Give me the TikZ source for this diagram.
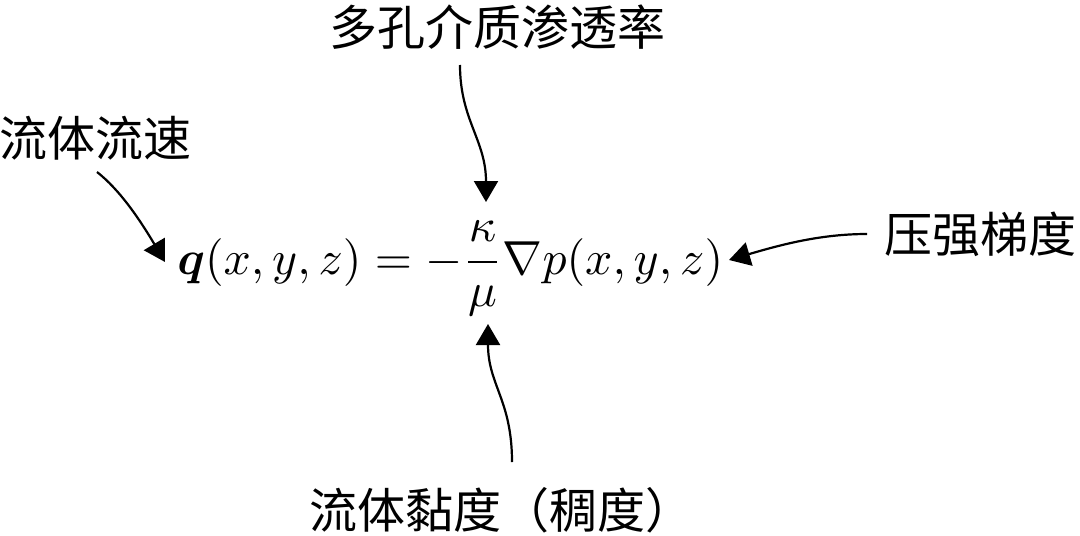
\documentclass[tikz,border=0pt]{standalone}
\usepackage{amsmath}
\usepackage{bm}
\usepackage{fontspec}
\newfontfamily\cjk{Noto Sans CJK SC}
\usetikzlibrary{arrows.meta}
\tikzset{
  lbl/.style={font=\cjk\fontsize{24}{28}\selectfont, inner sep=0pt},
  pointer/.style={line width=1.1pt, -{Triangle[width=12pt,length=10.5pt]}},
}
\begin{document}
\begin{tikzpicture}[x=0.5pt,y=-0.5pt]
\useasboundingbox (0,0) rectangle (1080,535);
% labels
\node[lbl] (perm) at (497,27) {多孔介质渗透率};
\node[lbl] (vel) at (95,138) {流体流速};
\node[lbl] (grad) at (980,234) {压强梯度};
\node[lbl] (visc) at (501,510) {流体黏度（稠度）};
% formula
\node[anchor=base west, inner sep=0pt, font=\fontsize{10}{12}\selectfont] (eq) at (177,274)
  {\scalebox{2.39}{$\bm{q}(x,y,z)=-\dfrac{\kappa}{\mu}\nabla p(x,y,z)$}};
% connector endpoints
\coordinate (permS) at (460,65);
\coordinate (permE) at (486,202);
\coordinate (velS) at (97,172);
\coordinate (velE) at (165,262);
\coordinate (gradS) at (867,234);
\coordinate (gradE) at (729,260);
\coordinate (viscS) at (512,462);
\coordinate (viscE) at (488,324);
% connectors
\draw[pointer] (permS) .. controls (460,120) and (486,140) .. (permE);
\draw[pointer] (velS) .. controls (120,190) and (140,220) .. (velE);
\draw[pointer] (gradS) .. controls (820,234) and (780,245) .. (gradE);
\draw[pointer] (viscS) .. controls (512,400) and (488,385) .. (viscE);
\end{tikzpicture}
\end{document}
